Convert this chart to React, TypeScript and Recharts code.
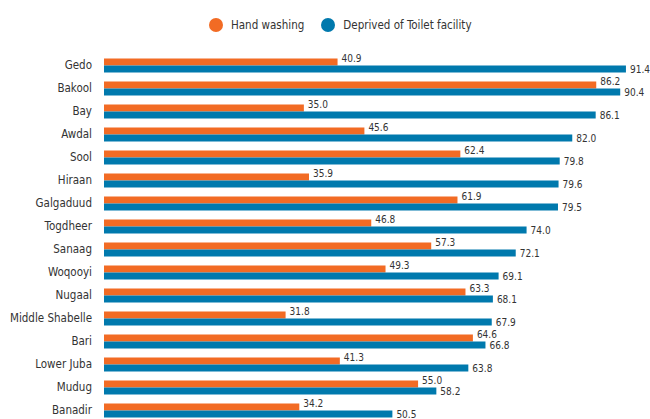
import { BarChart, Bar, XAxis, YAxis, LabelList } from "recharts";

const regions = [
  "Gedo",
  "Bakool",
  "Bay",
  "Awdal",
  "Sool",
  "Hiraan",
  "Galgaduud",
  "Togdheer",
  "Sanaag",
  "Woqooyi",
  "Nugaal",
  "Middle Shabelle",
  "Bari",
  "Lower Juba",
  "Mudug",
  "Banadir",
];

const handWashing = [40.9, 86.2, 35.0, 45.6, 62.4, 35.9, 61.9, 46.8, 57.3, 49.3, 63.3, 31.8, 64.6, 41.3, 55.0, 34.2];
const noToilet = [91.4, 90.4, 86.1, 82.0, 79.8, 79.6, 79.5, 74.0, 72.1, 69.1, 68.1, 67.9, 66.8, 63.8, 58.2, 50.5];

const ORANGE = "#f26b24";
const BLUE = "#0079ad";
const TEXT = "#333333";
const FONT = "'DejaVu Sans', sans-serif";
const NARROW = { fontFamily: FONT, fontStretch: "condensed" } as const;

const data = regions.map((name, i) => ({
  name,
  hand: handWashing[i],
  toilet: noToilet[i],
}));

const legendItems = [
  { label: "Hand washing", color: ORANGE },
  { label: "Deprived of Toilet facility", color: BLUE },
];

function ChartLegend() {
  return (
    <div
      style={{
        position: "absolute",
        left: 209,
        top: 18,
        display: "flex",
        alignItems: "center",
        ...NARROW,
      }}
    >
      {legendItems.map((item) => (
        <div key={item.label} style={{ display: "flex", alignItems: "center", marginRight: 17 }}>
          <span
            style={{
              width: 14,
              height: 14,
              borderRadius: "50%",
              background: item.color,
              display: "inline-block",
              marginRight: 8,
            }}
          />
          <span style={{ fontSize: 11.5, color: TEXT }}>{item.label}</span>
        </div>
      ))}
    </div>
  );
}

function RegionTick(props: any) {
  const { x, y, payload } = props;
  return (
    <text
      x={x}
      y={y}
      textAnchor="end"
      dominantBaseline="central"
      fontSize={11.5}
      fill={TEXT}
      style={NARROW}
    >
      {payload.value}
    </text>
  );
}

// value label at the end of each bar; orange ones sit a bit higher
function makeValueLabel(dy: number, dx: number) {
  return (props: any) => {
    const { x, y, width, height, value } = props;
    return (
      <text
        x={x + width + dx}
        y={y + height / 2 + dy}
        dominantBaseline="central"
        fontSize={10}
        fill={TEXT}
        style={NARROW}
      >
        {Number(value).toFixed(1)}
      </text>
    );
  };
}

export default function App() {
  return (
    <div
      style={{
        position: "absolute",
        left: 0,
        top: 0,
        width: 650,
        height: 419,
        overflow: "hidden",
        background: "#fff",
      }}
    >
      <ChartLegend />
      <BarChart
        width={650}
        height={430}
        data={data}
        layout="vertical"
        margin={{ top: 53.5, right: 3.5, bottom: 8.5, left: 0 }}
        barGap={0}
      >
        <XAxis type="number" domain={[0, 95]} hide />
        <YAxis
          type="category"
          dataKey="name"
          width={104}
          axisLine={false}
          tickLine={false}
          tickMargin={6}
          tick={<RegionTick />}
          interval={0}
        />
        <Bar dataKey="hand" name="Hand washing" fill={ORANGE} barSize={7} isAnimationActive={false}>
          <LabelList dataKey="hand" content={makeValueLabel(-4, 4)} />
        </Bar>
        <Bar
          dataKey="toilet"
          name="Deprived of Toilet facility"
          fill={BLUE}
          barSize={7}
          isAnimationActive={false}
        >
          <LabelList dataKey="toilet" content={makeValueLabel(0, 4)} />
        </Bar>
      </BarChart>
    </div>
  );
}
